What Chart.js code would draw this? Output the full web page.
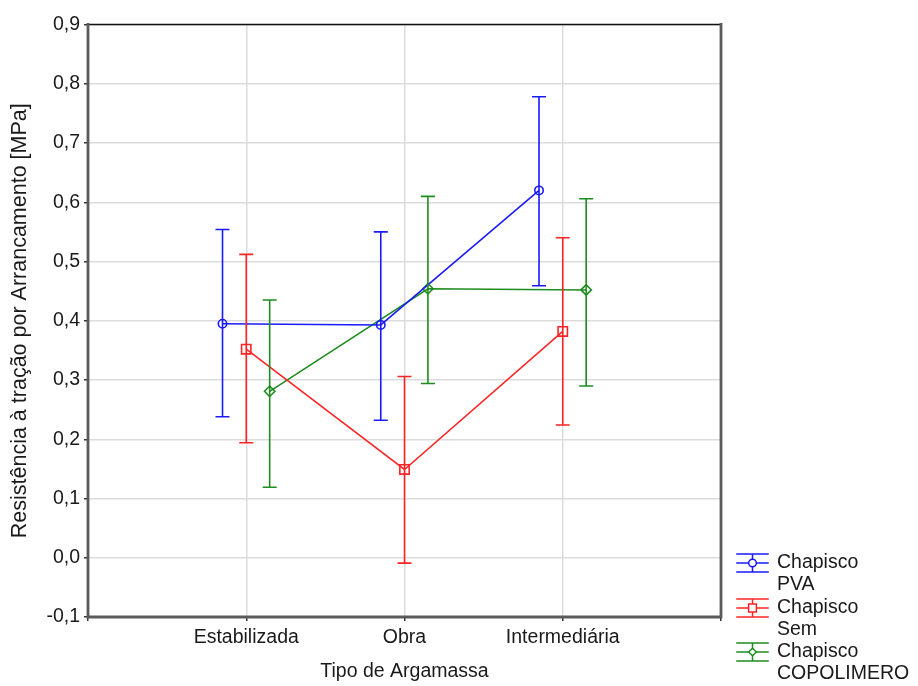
<!DOCTYPE html>
<html>
<head>
<meta charset="utf-8">
<script src="https://cdn.jsdelivr.net/npm/chart.js@4/dist/chart.umd.min.js"></script>
<style>
  html, body { margin: 0; padding: 0; background: #fff; }
  canvas { display: block; }
</style>
</head>
<body>
<canvas id="grafico" width="918" height="686"></canvas>
<script>
// dados
const categorias = ['Estabilizada', 'Obra', 'Intermediária'];
const serieNomes = [['Chapisco', 'PVA'], ['Chapisco', 'Sem'], ['Chapisco', 'COPOLIMERO']];

const pvaMedia = [0.395, 0.393, 0.620];
const pvaMin   = [0.238, 0.232, 0.459];
const pvaMax   = [0.554, 0.550, 0.778];

const semMedia = [0.352, 0.149, 0.382];
const semMin   = [0.194, -0.009, 0.224];
const semMax   = [0.512, 0.306, 0.540];

const copMedia = [0.281, 0.454, 0.452];
const copMin   = [0.119, 0.294, 0.290];
const copMax   = [0.435, 0.610, 0.606];

const yTicks = { min: -0.1, max: 0.9, step: 0.1 };

(function() {
    const fonte = "'Liberation Sans', Arial, sans-serif";
    const cores = ['#1a1aff', '#ff2424', '#1e8c1e'];
    const estilos = ['circle', 'rect', 'rectRot'];
    const raios = [4.2, 6.6, 5.2];
    const deslocamentos = [-0.15, 0, 0.148];

    const medias = [pvaMedia, semMedia, copMedia];
    const minimos = [pvaMin, semMin, copMin];
    const maximos = [pvaMax, semMax, copMax];

    const datasets = medias.map((serie, s) => ({
        label: serieNomes[s].join(' '),
        data: serie.map((v, i) => ({ x: i + 1 + deslocamentos[s], y: v })),
        borderColor: cores[s],
        backgroundColor: 'rgba(0,0,0,0)',
        borderWidth: 1.5,
        pointStyle: estilos[s],
        pointRadius: raios[s],
        pointBorderWidth: 1.6,
        pointBorderColor: cores[s],
        pointBackgroundColor: 'rgba(0,0,0,0)',
        tension: 0
    }));

    // barras de erro desenhadas com as escalas do Chart.js
    const barrasErro = {
        id: 'barrasErro',
        afterDatasetsDraw(chart) {
            const ctx = chart.ctx;
            const xs = chart.scales.x, ys = chart.scales.y;
            ctx.save();
            ctx.lineWidth = 1.6;
            medias.forEach((serie, s) => {
                ctx.strokeStyle = cores[s];
                serie.forEach((v, i) => {
                    const px = xs.getPixelForValue(i + 1 + deslocamentos[s]);
                    const top = ys.getPixelForValue(maximos[s][i]);
                    const bot = ys.getPixelForValue(minimos[s][i]);
                    ctx.beginPath();
                    ctx.moveTo(px, top); ctx.lineTo(px, bot);
                    ctx.moveTo(px - 7, top); ctx.lineTo(px + 7, top);
                    ctx.moveTo(px - 7, bot); ctx.lineTo(px + 7, bot);
                    ctx.stroke();
                });
            });
            ctx.restore();
        }
    };

    // moldura e legenda
    const moldura = {
        id: 'moldura',
        afterDraw(chart) {
            const ctx = chart.ctx;
            const a = chart.chartArea;
            ctx.save();
            ctx.lineCap = 'square';
            ctx.strokeStyle = '#111';
            ctx.lineWidth = 1.5;
            ctx.beginPath();
            ctx.moveTo(a.left, a.top); ctx.lineTo(a.right, a.top);
            ctx.stroke();
            ctx.strokeStyle = '#5a5a5a';
            ctx.lineWidth = 2.8;
            ctx.beginPath();
            ctx.moveTo(a.right, a.top); ctx.lineTo(a.right, a.bottom);
            ctx.moveTo(a.left, a.top); ctx.lineTo(a.left, a.bottom); ctx.lineTo(a.right, a.bottom);
            ctx.stroke();

            // legenda
            const lx = 737, lw = 31, cx = lx + lw / 2;
            const centros = [563, 608, 652];
            ctx.font = '19.5px ' + fonte;
            ctx.textBaseline = 'middle';
            ctx.textAlign = 'left';
            serieNomes.forEach((nome, s) => {
                const cy = centros[s];
                ctx.strokeStyle = cores[s];
                ctx.lineWidth = 1.5;
                ctx.beginPath();
                ctx.moveTo(lx, cy - 9); ctx.lineTo(lx + lw, cy - 9);
                ctx.moveTo(lx, cy); ctx.lineTo(lx + lw, cy);
                ctx.moveTo(lx, cy + 9); ctx.lineTo(lx + lw, cy + 9);
                ctx.moveTo(cx, cy - 9); ctx.lineTo(cx, cy + 9);
                ctx.stroke();
                ctx.fillStyle = '#fff';
                Chart.helpers.drawPoint(ctx, {
                    pointStyle: estilos[s], rotation: 0, borderWidth: 1.5,
                    radius: s === 1 ? 5.5 : 3.8
                }, cx, cy);
                ctx.fillStyle = '#1a1a1a';
                ctx.fillText(nome[0], 777, cy);
                ctx.fillText(nome[1], 777, cy + 22);
            });
            ctx.restore();
        }
    };

    new Chart(document.getElementById('grafico'), {
        type: 'line',
        data: { datasets },
        options: {
            responsive: false,
            animation: false,
            layout: { padding: { left: 0, top: 24.5, right: 197, bottom: 0 } },
            plugins: { legend: false, tooltip: { enabled: false } },
            scales: {
                x: {
                    type: 'linear',
                    min: 0,
                    max: 4,
                    afterFit(scale) { scale.height = 69; },
                    border: { display: false },
                    grid: { color: '#dcdcdc', lineWidth: 1.5, tickLength: 4, tickColor: '#333', tickWidth: 1.5 },
                    ticks: {
                        stepSize: 1,
                        padding: 5,
                        color: '#1a1a1a',
                        font: { family: fonte, size: 19.5 },
                        maxRotation: 0,
                        callback: v => (Number.isInteger(v) && v >= 1 && v <= categorias.length) ? categorias[v - 1] : ''
                    },
                    title: {
                        display: true,
                        text: 'Tipo de Argamassa',
                        color: '#1a1a1a',
                        font: { family: fonte, size: 19.5 },
                        padding: { top: 0, bottom: 3 }
                    }
                },
                y: {
                    min: yTicks.min,
                    max: yTicks.max,
                    afterFit(scale) { scale.width = 88; },
                    border: { display: false },
                    grid: { color: '#dcdcdc', lineWidth: 1.5, tickLength: 4, tickColor: '#333', tickWidth: 1.5 },
                    ticks: {
                        stepSize: yTicks.step,
                        padding: 4,
                        color: '#1a1a1a',
                        font: { family: fonte, size: 19.5 },
                        callback: v => v.toFixed(1).replace('.', ',')
                    },
                    title: {
                        display: true,
                        text: 'Resistência à tração por Arrancamento [MPa]',
                        color: '#1a1a1a',
                        font: { family: fonte, size: 21.5 },
                        padding: { top: 7, bottom: 0 }
                    }
                }
            }
        },
        plugins: [barrasErro, moldura]
    });
})();
</script>
</body>
</html>
